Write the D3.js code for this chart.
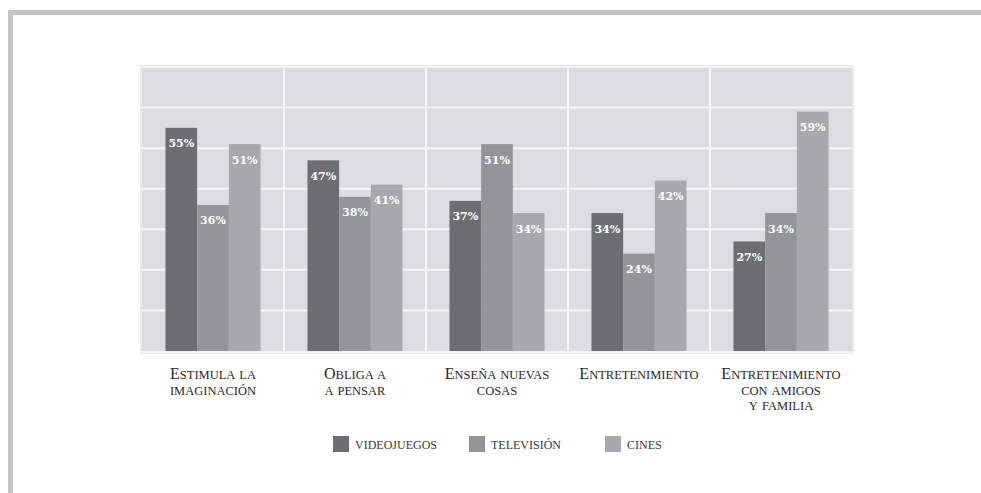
<!DOCTYPE html>
<html>
<head>
<meta charset="utf-8">
<script src="https://cdn.jsdelivr.net/npm/d3@7"></script>
<style>
  body { margin: 0; background: #fff; }
  svg { display: block; }
</style>
</head>
<body>
<svg id="chart"></svg>
<script>
// categories (line breaks as in the original)
const categories = ["Estimula la imaginación", "Obliga a a pensar", "Enseña nuevas cosas", "Entretenimiento", "Entretenimiento con amigos y familia"];
const categoryLines = [
    ["Estimula la", "imaginación"],
    ["Obliga a", "a pensar"],
    ["Enseña nuevas", "cosas"],
    ["Entretenimiento"],
    ["Entretenimiento", "con amigos", "y familia"]
];
const series = ["Videojuegos", "Televisión", "Cines"];
const videojuegos = [55, 47, 37, 34, 27];
const television = [36, 38, 51, 24, 34];
const cines = [51, 41, 34, 42, 59];
const yTicks = [0, 10, 20, 30, 40, 50, 60, 70];

const colors = ["#6d6e71", "#939598", "#a7a9ac"];
const values = [videojuegos, television, cines];
const serifFont = "'Liberation Serif', 'Times New Roman', Times, serif";

const width = 981, height = 493;
const plot = { left: 142, right: 852, top: 67, bottom: 351 };

const svg = d3.select("#chart")
    .attr("width", width)
    .attr("height", height);

// page frame
svg.append("rect").attr("x", 8).attr("y", 10).attr("width", width - 8).attr("height", 5).attr("fill", "#c3c4c6");
svg.append("rect").attr("x", 8).attr("y", 10).attr("width", 5).attr("height", height - 10).attr("fill", "#c3c4c6");

const x0 = d3.scaleBand()
    .domain(categories)
    .range([plot.left, plot.right])
    .padding(0);

const x1 = d3.scaleBand()
    .domain(series)
    .range([0, x0.bandwidth()])
    .paddingInner(0)
    .paddingOuter(0.74);

const y = d3.scaleLinear()
    .domain([0, 70])
    .range([plot.bottom, plot.top]);

// plot background + outline
svg.append("rect")
    .attr("x", plot.left - 1).attr("y", plot.top - 1)
    .attr("width", plot.right - plot.left + 2).attr("height", plot.bottom - plot.top + 3)
    .attr("fill", "#dcdddf")
    .attr("stroke", "#e9eaea")
    .attr("stroke-width", 2);

// horizontal grid
svg.append("g")
    .selectAll("line")
    .data(yTicks)
    .join("line")
    .attr("x1", plot.left).attr("x2", plot.right)
    .attr("y1", d => d === 0 ? y(d) + 1 : y(d))
    .attr("y2", d => d === 0 ? y(d) + 1 : y(d))
    .attr("stroke", "#f5f5f5")
    .attr("stroke-width", 2);

// vertical grid at band edges
svg.append("g")
    .selectAll("line")
    .data(categories.slice(1))
    .join("line")
    .attr("x1", d => x0(d)).attr("x2", d => x0(d))
    .attr("y1", plot.top).attr("y2", plot.bottom + 1)
    .attr("stroke", "#f5f5f5")
    .attr("stroke-width", 2);

// bars
const groups = svg.append("g")
    .selectAll("g")
    .data(categories)
    .join("g")
    .attr("transform", d => `translate(${x0(d)},0)`);

const cells = groups.selectAll("g")
    .data((d, i) => series.map((s, j) => ({ s, j, v: values[j][i] })))
    .join("g");

cells.append("rect")
    .attr("x", d => x1(d.s))
    .attr("y", d => y(d.v))
    .attr("width", x1.bandwidth())
    .attr("height", d => y(0) - y(d.v))
    .attr("fill", d => colors[d.j]);

cells.append("text")
    .attr("x", d => x1(d.s) + x1.bandwidth() / 2)
    .attr("y", d => y(d.v) + 19.5)
    .attr("text-anchor", "middle")
    .attr("fill", "#fff")
    .attr("font-family", "'DejaVu Serif', serif")
    .attr("font-weight", "bold")
    .attr("font-size", 11)
    .text(d => d.v + "%");

// small-caps text: capitals large, lowercase as small capitals
function smallCaps(sel, str, big, small) {
    const runs = [];
    for (const ch of str) {
        const isBig = ch !== ch.toLowerCase();
        const last = runs[runs.length - 1];
        if (last && last.big === isBig) last.t += ch;
        else runs.push({ big: isBig, t: ch });
    }
    runs.forEach(r => {
        sel.append("tspan")
            .attr("font-size", r.big ? big : small)
            .text(r.t.toUpperCase());
    });
}

// category labels
categories.forEach((c, i) => {
    categoryLines[i].forEach((line, k) => {
        const t = svg.append("text")
            .attr("x", x0(c) + x0.bandwidth() / 2)
            .attr("y", 379 + k * 15.7)
            .attr("text-anchor", "middle")
            .attr("fill", "#2b2829")
            .attr("font-family", serifFont)
            .style("word-spacing", "1.5px");
        smallCaps(t, line, 16, 12.5);
    });
});

// legend
const legend = svg.append("g")
    .selectAll("g")
    .data(series)
    .join("g")
    .attr("transform", (d, i) => `translate(${333 + i * 136},436)`);

legend.append("rect")
    .attr("width", 16).attr("height", 16)
    .attr("fill", (d, i) => colors[i]);

legend.append("text")
    .attr("x", 22).attr("y", 12.5)
    .attr("fill", "#3a3738")
    .attr("font-family", serifFont)
    .attr("font-size", 12)
    .text(d => d.toUpperCase());
</script>
</body>
</html>
